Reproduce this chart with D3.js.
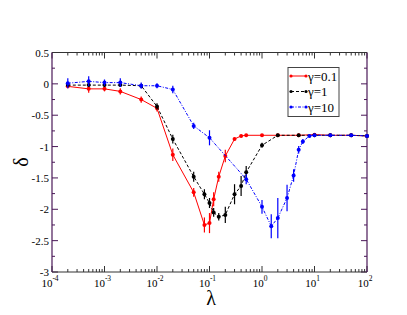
<!DOCTYPE html>
<html>
<head>
<meta charset="utf-8">
<script src="https://cdn.jsdelivr.net/npm/d3@7"></script>
<style>
  body { margin: 0; background: #fff; }
  svg text { font-family: "Liberation Serif", "Times New Roman", serif; }
</style>
</head>
<body>
<div id="chart-area"></div>
<script>
// series data
let lambda1 = [2e-4, 5e-4, 1e-3, 2e-3, 5e-3, 1e-2, 2e-2, 5e-2, 8e-2, 0.1, 0.12, 0.15, 0.2, 0.3, 0.4, 0.5, 1, 2, 5, 10, 20, 50, 100];
let delta01 = [-0.04, -0.08, -0.08, -0.12, -0.25, -0.39, -1.13, -1.73, -2.25, -2.22, -1.84, -1.48, -1.15, -0.88, -0.83, -0.82, -0.82, -0.82, -0.82, -0.81, -0.82, -0.82, -0.83];
let err01   = [0.03, 0.06, 0.04, 0.05, 0.05, 0.05, 0.1, 0.07, 0.12, 0.16, 0.11, 0.08, 0.1, 0.02, 0.02, 0.02, 0.02, 0.02, 0.02, 0.02, 0.02, 0.02, 0.02];

let delta1 = [-0.02, -0.02, -0.02, -0.02, -0.03, -0.36, -0.88, -1.48, -1.76, -1.90, -2.05, -2.12, -2.09, -1.76, -1.63, -1.41, -0.98, -0.82, -0.82, -0.82, -0.82, -0.82, -0.83];
let err1   = [0.03, 0.03, 0.03, 0.03, 0.03, 0.05, 0.07, 0.08, 0.08, 0.08, 0.07, 0.06, 0.13, 0.16, 0.16, 0.1, 0.04, 0.02, 0.02, 0.02, 0.02, 0.02, 0.02];

let lambda10 = [2e-4, 5e-4, 1e-3, 2e-3, 5e-3, 1e-2, 2e-2, 5e-2, 0.1, 0.5, 1, 1.5, 2, 3, 4, 5, 6, 8, 10, 20, 50, 100];
let delta10 = [0.01, 0.04, 0.02, 0.02, -0.03, -0.03, -0.09, -0.67, -0.86, -1.52, -1.96, -2.27, -2.14, -1.82, -1.46, -1.05, -0.92, -0.83, -0.82, -0.82, -0.82, -0.83];
let err10   = [0.08, 0.08, 0.05, 0.07, 0.05, 0.04, 0.06, 0.05, 0.12, 0.08, 0.11, 0.19, 0.32, 0.21, 0.1, 0.06, 0.04, 0.02, 0.02, 0.02, 0.02, 0.02];

let legendLabels = ["\u03b3=0.1", "\u03b3=1", "\u03b3=10"];
let yTicks = [0.5, 0, -0.5, -1, -1.5, -2, -2.5, -3];
let xExponents = [-4, -3, -2, -1, 0, 1, 2];

let series = [
    {name: legendLabels[0], x: lambda1, y: delta01, e: err01, color: "#ff0000", dash: null},
    {name: legendLabels[1], x: lambda1, y: delta1, e: err1, color: "#000000", dash: "3,2"},
    {name: legendLabels[2], x: lambda10, y: delta10, e: err10, color: "#0000ff", dash: "3,1.5,1,1.5"}
];

let W = 407, H = 315;
let pLeft = 52, pRight = 367, pTop = 52.5, pBottom = 272;

let svg = d3.select("#chart-area")
    .append("svg")
    .attr("width", W)
    .attr("height", H);

let x = d3.scaleLog().domain([1e-4, 1e2]).range([pLeft, pRight]);
let y = d3.scaleLinear().domain([-3, 0.5]).range([pBottom, pTop]);

// minor ticks
let xMinor = [];
xExponents.slice(0, -1).forEach(p => {
    for (let k = 2; k <= 9; k++) xMinor.push(k * Math.pow(10, p));
});
let yMinor = d3.range(-2.75, 0.5, 0.5);

let axisColor = "#333";
let sideColor = "#4a1858";

// ticks on all four sides, pointing inward
let g = svg.append("g");
xExponents.forEach(p => {
    let xp = x(Math.pow(10, p));
    g.append("line").attr("x1", xp).attr("x2", xp).attr("y1", pBottom).attr("y2", pBottom - 6).attr("stroke", axisColor);
    g.append("line").attr("x1", xp).attr("x2", xp).attr("y1", pTop).attr("y2", pTop + 6).attr("stroke", axisColor);
});
xMinor.forEach(v => {
    g.append("line").attr("x1", x(v)).attr("x2", x(v)).attr("y1", pBottom).attr("y2", pBottom - 3).attr("stroke", axisColor);
    g.append("line").attr("x1", x(v)).attr("x2", x(v)).attr("y1", pTop).attr("y2", pTop + 3).attr("stroke", axisColor);
});
yTicks.forEach(v => {
    g.append("line").attr("x1", pLeft).attr("x2", pLeft + 6).attr("y1", y(v)).attr("y2", y(v)).attr("stroke", sideColor);
    g.append("line").attr("x1", pRight).attr("x2", pRight - 6).attr("y1", y(v)).attr("y2", y(v)).attr("stroke", sideColor);
});
yMinor.forEach(v => {
    g.append("line").attr("x1", pLeft).attr("x2", pLeft + 3).attr("y1", y(v)).attr("y2", y(v)).attr("stroke", sideColor);
    g.append("line").attr("x1", pRight).attr("x2", pRight - 3).attr("y1", y(v)).attr("y2", y(v)).attr("stroke", sideColor);
});

// frame
g.append("line").attr("x1", pLeft).attr("x2", pRight).attr("y1", pTop).attr("y2", pTop).attr("stroke", axisColor);
g.append("line").attr("x1", pLeft).attr("x2", pRight).attr("y1", pBottom).attr("y2", pBottom).attr("stroke", axisColor);
g.append("line").attr("x1", pLeft).attr("x2", pLeft).attr("y1", pTop).attr("y2", pBottom).attr("stroke", sideColor).attr("stroke-width", 1.2);
g.append("line").attr("x1", pRight).attr("x2", pRight).attr("y1", pTop).attr("y2", pBottom).attr("stroke", sideColor).attr("stroke-width", 1.2);

// tick labels
yTicks.forEach(v => {
    svg.append("text")
        .attr("x", pLeft - 3)
        .attr("y", y(v) + 4)
        .attr("text-anchor", "end")
        .attr("font-size", 11)
        .text(v === 0 ? "0" : String(v));
});
xExponents.forEach(p => {
    let t = svg.append("text")
        .attr("x", x(Math.pow(10, p)) - 2)
        .attr("y", pBottom + 15)
        .attr("text-anchor", "middle")
        .attr("font-size", 11);
    t.append("tspan").text("10");
    t.append("tspan").attr("dy", -6).attr("font-size", 7.5).text(String(p));
});

// axis titles
svg.append("text")
    .attr("x", 211)
    .attr("y", 305)
    .attr("text-anchor", "middle")
    .attr("font-size", 20)
    .text("\u03bb");
svg.append("text")
    .attr("transform", "translate(28,162) rotate(-90)")
    .attr("text-anchor", "middle")
    .attr("font-size", 20)
    .text("\u03b4");

// series
let line = d3.line().x(d => x(d[0])).y(d => y(d[1]));

series.forEach(s => {
    let pts = s.x.map((v, i) => [v, s.y[i], s.e[i]]);
    let sg = svg.append("g");
    sg.append("path")
        .datum(pts)
        .attr("d", line)
        .attr("fill", "none")
        .attr("stroke", s.color)
        .attr("stroke-width", 1)
        .attr("stroke-dasharray", s.dash);
    sg.selectAll(".err")
        .data(pts)
        .enter().append("line")
        .attr("class", "err")
        .attr("x1", d => x(d[0]))
        .attr("x2", d => x(d[0]))
        .attr("y1", d => y(d[1] - d[2]))
        .attr("y2", d => y(d[1] + d[2]))
        .attr("stroke", s.color)
        .attr("stroke-width", 1.2);
    sg.selectAll(".dot")
        .data(pts)
        .enter().append("circle")
        .attr("class", "dot")
        .attr("cx", d => x(d[0]))
        .attr("cy", d => y(d[1]))
        .attr("r", 2)
        .attr("fill", s.color);
});

// legend
let lg = svg.append("g");
lg.append("rect")
    .attr("x", 288).attr("y", 67.5)
    .attr("width", 51).attr("height", 49)
    .attr("fill", "#fff")
    .attr("stroke", "#444");
series.forEach((s, i) => {
    let ly = 76 + i * 15.5;
    lg.append("line")
        .attr("x1", 291).attr("x2", 306)
        .attr("y1", ly).attr("y2", ly)
        .attr("stroke", s.color)
        .attr("stroke-dasharray", s.dash);
    lg.append("circle").attr("cx", 291).attr("cy", ly).attr("r", 1.6).attr("fill", s.color);
    lg.append("circle").attr("cx", 306).attr("cy", ly).attr("r", 1.6).attr("fill", s.color);
    lg.append("text")
        .attr("x", 308)
        .attr("y", ly + 4.5)
        .attr("font-size", 13)
        .text(s.name);
});
</script>
</body>
</html>
